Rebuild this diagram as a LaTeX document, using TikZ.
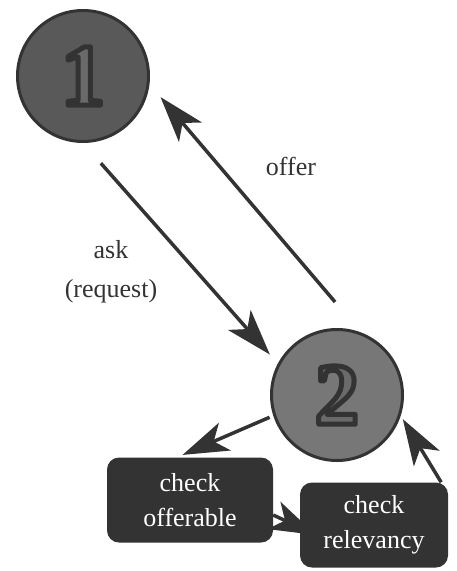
\documentclass[tikz,border=0pt]{standalone}
\usepackage{fontspec}
\setmainfont{Liberation Serif}
\usetikzlibrary{arrows.meta,backgrounds}
\definecolor{ink}{HTML}{333333}
\definecolor{darkdisc}{HTML}{595959}
\definecolor{lightdisc}{HTML}{777777}
\definecolor{digitfill}{HTML}{6A6A6A}
% digit filled grey and stroked dark
\newcommand\bignum[1]{{\color{digitfill}%
  \special{pdf:literal direct 2 Tr 5 w 1 j 0.2 0.2 0.2 RG}#1%
  \special{pdf:literal direct 0 Tr}}}

\begin{document}
\begin{tikzpicture}[x=1bp,y=-1bp,
  agent/.style={circle,draw=ink,line width=3bp,minimum size=131bp,inner sep=0pt,
    font=\fontsize{88bp}{88bp}\selectfont\bfseries},
  task/.style={rounded corners=12bp,fill=ink,text=white,align=center,
    minimum height=85bp,font=\fontsize{26bp}{35bp}\selectfont},
  arr/.style={draw=ink,line width=3.5bp,-{Stealth[length=46bp,width=30bp,inset=12bp]}},
  lbl/.style={text=ink,align=center,font=\fontsize{26bp}{39bp}\selectfont}]
\useasboundingbox (0,0) rectangle (457,571);
% agents
\node[agent,fill=darkdisc] (one) at (83,76) {\bignum{1}};
\node[agent,fill=lightdisc] (two) at (337,395) {\bignum{2}};
% checks
\node[task,minimum width=166bp] (offerable) at (190,500) {check\\offerable};
\node[task,minimum width=148bp] (relevancy) at (374,525) {check\\relevancy};
% ask / offer
\draw[arr,shorten <=27bp,shorten >=12bp] (one.-90) -- (two.152);
\node[lbl] at (111,272) {ask\\(request)};
\draw[arr,shorten <=40bp,shorten >=17bp] (two.69) -- (one.-7);
\node[lbl] at (291,166) {offer};
% checking loop
\draw[arr,shorten <=4bp,shorten >=6bp] (two.-162) -- ([xshift=-13bp]offerable.north);
\begin{scope}[on background layer]
\draw[arr] ([yshift=-15bp]offerable.east) -- ([xshift=16bp,yshift=-10bp]relevancy.west);
\end{scope}
\draw[arr,shorten >=4bp] ([xshift=-7bp]relevancy.north east) -- (two.-18);
\end{tikzpicture}
\end{document}
